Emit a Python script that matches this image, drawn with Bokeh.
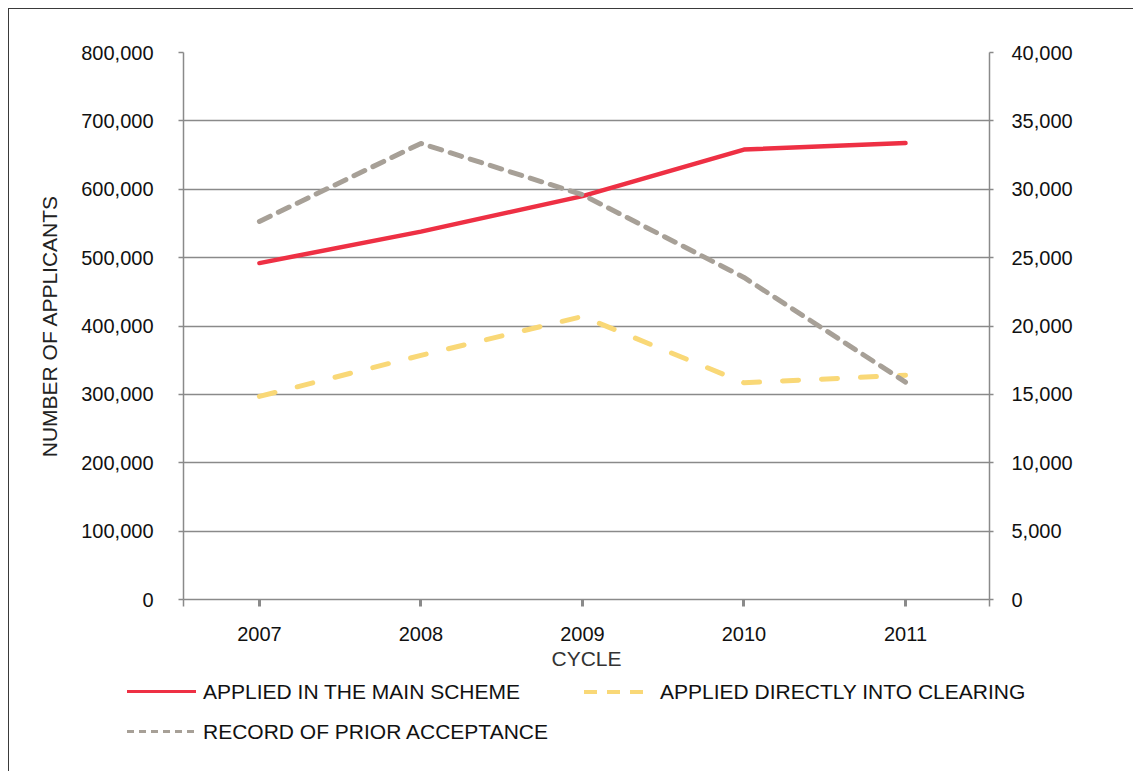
from bokeh.plotting import figure
from bokeh.layouts import column
from bokeh.models import Range1d, LinearAxis, FixedTicker, NumeralTickFormatter, Div
from bokeh.embed import file_html
from bokeh.resources import INLINE

# ---- data ----
years = [2007, 2008, 2009, 2010, 2011]
main_scheme = [492000, 538000, 590000, 658000, 667500]      # left axis
direct_clearing = [14850, 17850, 20700, 15850, 16400]       # right axis
prior_acceptance = [27650, 33350, 29600, 23550, 15900]      # right axis
left_ticks = [0, 100000, 200000, 300000, 400000, 500000, 600000, 700000, 800000]
right_ticks = [0, 5000, 10000, 15000, 20000, 25000, 30000, 35000, 40000]
labels = ["APPLIED IN THE MAIN SCHEME", "APPLIED DIRECTLY INTO CLEARING", "RECORD OF PRIOR ACCEPTANCE"]
x_title = "CYCLE"
y_title = "NUMBER OF APPLICANTS"

FONT = "Liberation Sans"
GRID = "#8a8a8a"
RED = "#ee3044"
YELLOW = "#f9d877"
GRAY = "#a7a097"

X0, X1 = 2006.53, 2011.52
W = 1122

p = figure(width=W, height=670, output_backend="svg", toolbar_location=None,
           x_range=Range1d(X0, X1), y_range=Range1d(0, 800000),
           min_border_left=174, min_border_right=142, min_border_top=43, min_border_bottom=80,
           outline_line_color=None, background_fill_color="white", border_fill_color="white")
p.extra_y_ranges = {"right": Range1d(0, 40000)}

# grid
p.xgrid.visible = False
p.ygrid.ticker = FixedTicker(ticks=left_ticks)
p.ygrid.grid_line_color = GRID
p.ygrid.grid_line_width = 1.5

# x axis
xa = p.xaxis[0]
xa.ticker = FixedTicker(ticks=years, minor_ticks=[X0, X1])
xa.axis_line_color = GRID
xa.axis_line_width = 1.5
xa.major_tick_line_color = GRID
xa.major_tick_line_width = 3
xa.major_tick_in = 0
xa.major_tick_out = 7
xa.minor_tick_line_color = GRID
xa.minor_tick_line_width = 1.5
xa.minor_tick_in = 0
xa.minor_tick_out = 7
xa.major_label_text_font = FONT
xa.major_label_text_font_size = "20px"
xa.major_label_text_color = "#111111"
xa.major_label_standoff = 20
xa.axis_label = x_title
xa.axis_label_text_font = FONT
xa.axis_label_text_font_size = "21px"
xa.axis_label_text_font_style = "normal"
xa.axis_label_text_color = "#333333"
xa.axis_label_standoff = 3

# left axis
ya = p.yaxis[0]
ya.ticker = FixedTicker(ticks=left_ticks)
ya.formatter = NumeralTickFormatter(format="0,0")
ya.axis_line_color = GRID
ya.axis_line_width = 1.5
ya.major_tick_line_color = GRID
ya.major_tick_line_width = 1.5
ya.major_tick_in = 0
ya.major_tick_out = 5
ya.minor_tick_line_color = None
ya.major_label_text_font = FONT
ya.major_label_text_font_size = "20px"
ya.major_label_text_color = "#111111"
ya.major_label_standoff = 25
ya.axis_label = y_title
ya.axis_label_text_font = FONT
ya.axis_label_text_font_size = "21px"
ya.axis_label_text_font_style = "normal"
ya.axis_label_text_color = "#222222"
ya.axis_label_standoff = 17

# right axis
ra = LinearAxis(y_range_name="right", ticker=FixedTicker(ticks=right_ticks),
                formatter=NumeralTickFormatter(format="0,0"))
ra.axis_line_color = GRID
ra.axis_line_width = 1.5
ra.major_tick_line_color = GRID
ra.major_tick_line_width = 1.5
ra.major_tick_in = 0
ra.major_tick_out = 4
ra.minor_tick_line_color = None
ra.major_label_text_font = FONT
ra.major_label_text_font_size = "20px"
ra.major_label_text_color = "#111111"
ra.major_label_standoff = 18
p.add_layout(ra, "right")

# series
p.line(years, main_scheme, line_color=RED, line_width=4.5, line_cap="round", line_join="round")
p.line(years, direct_clearing, y_range_name="right", line_color=YELLOW, line_width=5,
       line_dash="16 23", line_cap="round", line_join="round")
p.line(years, prior_acceptance, y_range_name="right", line_color=GRAY, line_width=5,
       line_dash="12 9", line_cap="round", line_join="round")

# ---- legend strip below the chart (HTML, so it is not clipped to the plot frame) ----
def swatch(left, top, width, height, background):
    return (f'<div style="position:absolute;left:{left}px;top:{top}px;width:{width}px;'
            f'height:{height}px;background:{background};"></div>')

def label(left, top, text):
    return (f'<div style="position:absolute;left:{left}px;top:{top}px;line-height:24px;'
            f'white-space:nowrap;">{text}</div>')

html = (f'<div style="position:relative;width:{W}px;height:91px;font-family:\'{FONT}\';'
        f'font-size:21px;color:#111111;">'
        + swatch(113, 6, 69, 3, RED)
        + label(189, -4, labels[0])
        + swatch(570, 6, 59, 4, f"repeating-linear-gradient(to right, {YELLOW} 0 13px, transparent 13px 23px)")
        + label(646, -4, labels[1])
        + swatch(113, 46, 70, 3, f"repeating-linear-gradient(to right, {GRAY} 0 7px, transparent 7px 12px)")
        + label(189, 36, labels[2])
        + '</div>')
leg = Div(text=html, width=W, height=91)

layout = column(p, leg, spacing=0)
layout.styles = {"margin-left": "8px", "margin-top": "8px",
                 "border-left": "1px solid #3a3a3a", "border-top": "1px solid #3a3a3a"}

open("out.html", "w").write(file_html(layout, INLINE))
